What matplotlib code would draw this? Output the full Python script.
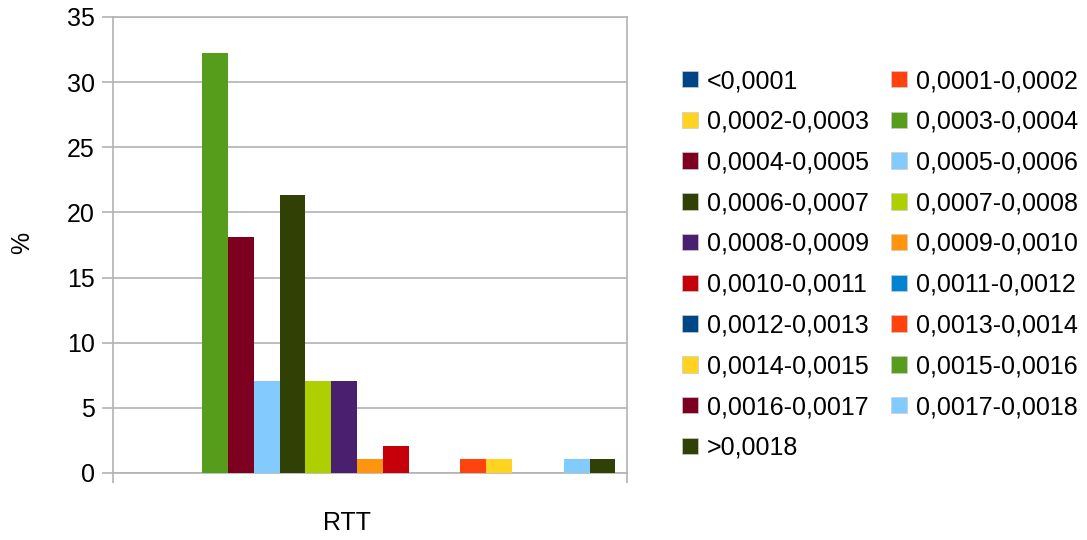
import matplotlib
matplotlib.use("Agg")
import matplotlib.pyplot as plt
from matplotlib.patches import Patch

plt.rcParams['font.family'] = ['Liberation Sans', 'DejaVu Sans']

# RTT buckets (seconds) and share of samples in each, %
buckets = ["<0,0001", "0,0001-0,0002", "0,0002-0,0003", "0,0003-0,0004",
           "0,0004-0,0005", "0,0005-0,0006", "0,0006-0,0007", "0,0007-0,0008",
           "0,0008-0,0009", "0,0009-0,0010", "0,0010-0,0011", "0,0011-0,0012",
           "0,0012-0,0013", "0,0013-0,0014", "0,0014-0,0015", "0,0015-0,0016",
           "0,0016-0,0017", "0,0017-0,0018", ">0,0018"]
share = [0, 0, 0, 32.2, 18.15, 7.04, 21.3, 7.04, 7.04, 1.07, 2.07, 0,
         0, 1.07, 1.07, 0, 0, 1.07, 1.07]
category = "RTT"

palette = ["#004586", "#ff420e", "#ffd320", "#579d1c", "#7e0021", "#83caff",
           "#314004", "#aecf00", "#4b1f6f", "#ff950e", "#c5000b", "#0084d1"]
colors = [palette[i % len(palette)] for i in range(len(buckets))]

fs = 18

fig = plt.figure(figsize=(10.87, 5.40), dpi=100)
ax = fig.add_axes([113 / 1087, 67 / 540, 514 / 1087, 456 / 540])

n = len(buckets)
group = 0.955
w = group / n
for i, (v, c) in enumerate(zip(share, colors)):
    ax.bar(-group / 2 + w * (i + 0.5), v, width=w, color=c, zorder=3)

ax.set_xlim(-0.5, 0.5)
ax.set_ylim(0, 35)
ax.set_yticks(range(0, 36, 5))
ax.yaxis.grid(True, color="#b3b3b3", linewidth=1.2, zorder=0)
for s in ax.spines.values():
    s.set_color("#b3b3b3")
    s.set_linewidth(1.2)

ax.tick_params(axis="y", length=8, width=1.2, color="#b3b3b3",
               labelsize=fs, pad=5)
ax.set_xticks([-0.5, 0.5])
ax.set_xticklabels(["", ""])
ax.tick_params(axis="x", length=7.5, width=1.2, color="#b3b3b3")

ax.text(0.456, -0.11, category, transform=ax.transAxes, ha="center",
        va="center", fontsize=fs)
fig.text(22 / 1087, 1 - 243 / 540, "%", rotation=90, ha="center",
         va="center", fontsize=fs)

handles = [Patch(facecolor=c, edgecolor="#cccccc", linewidth=0.5, label=b)
           for b, c in zip(buckets, colors)]
order = list(range(0, n, 2)) + list(range(1, n, 2))
fig.legend([handles[i] for i in order], [buckets[i] for i in order],
           ncol=2, loc="upper left", bbox_to_anchor=(682 / 1087, 1 - 69 / 540),
           frameon=False, fontsize=fs, borderpad=0, borderaxespad=0,
           handlelength=0.64, handleheight=0.64, handletextpad=0.36,
           columnspacing=0.88, labelspacing=0.67)

fig.savefig("out.png", dpi=100)
